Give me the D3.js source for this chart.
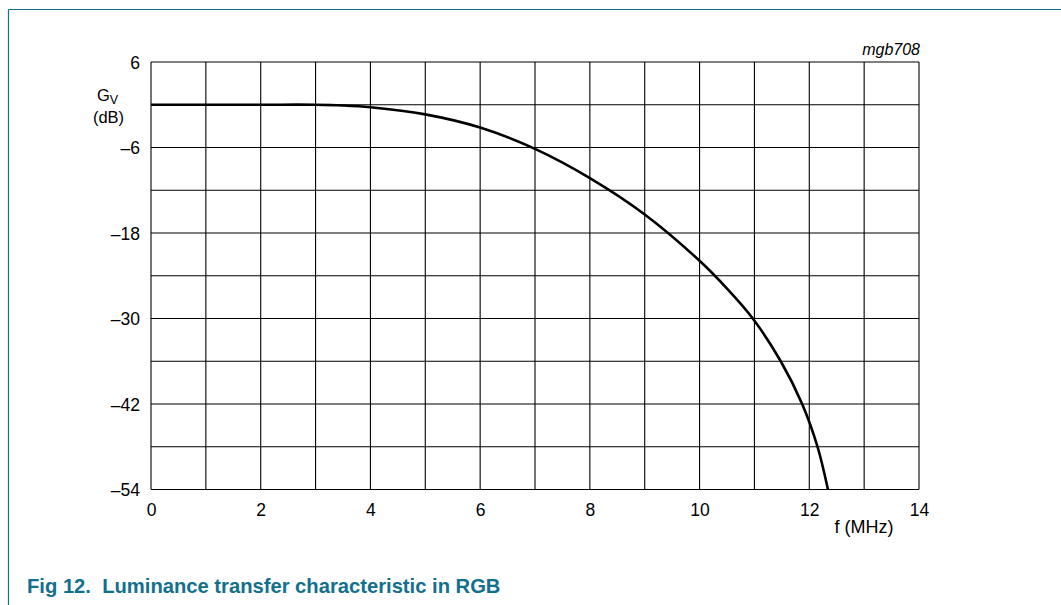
<!DOCTYPE html>
<html>
<head>
<meta charset="utf-8">
<script src="https://cdn.jsdelivr.net/npm/d3@7"></script>
<style>
  html, body { margin: 0; padding: 0; background: #fff; }
  svg { display: block; }
  text { font-family: "Liberation Sans", Arial, Helvetica, sans-serif; fill: #000; }
</style>
</head>
<body>
<svg id="chart" width="1061" height="605"></svg>
<script>
// ---- data ----
const freqMHz = [0, 1, 2, 3, 3.5, 4, 5, 6, 7, 8, 9, 10, 10.5, 10.97, 11.48, 11.87, 12.15, 12.34];
const gainDB  = [0, 0, 0, 0, -0.1, -0.35, -1.35, -3.2, -6.2, -10.3, -15.4, -21.9, -25.8, -30, -36, -42, -48, -54];
const xTickLabels = [0, 2, 4, 6, 8, 10, 12, 14];
const yTickLabels = [6, -6, -18, -30, -42, -54];
const xGridValues = [0, 1, 2, 3, 4, 5, 6, 7, 8, 9, 10, 11, 12, 13, 14];
const yGridValues = [6, 0, -6, -12, -18, -24, -30, -36, -42, -48, -54];
const xDomain = [0, 14];
const yDomain = [-54, 6];

// ---- layout ----
const svg = d3.select("#chart");
const pLeft = 151, pRight = 919, pTop = 62, pBottom = 489.5;
const teal = "#126f8d";

const x = d3.scaleLinear().domain(xDomain).range([pLeft, pRight]);
const y = d3.scaleLinear().domain(yDomain).range([pBottom, pTop]);

// page frame (left and top rules)
svg.append("line").attr("x1", 8.5).attr("x2", 8.5).attr("y1", 9.5).attr("y2", 605)
  .attr("stroke", teal).attr("stroke-width", 1.2);
svg.append("line").attr("x1", 8.5).attr("x2", 1061).attr("y1", 9.5).attr("y2", 9.5)
  .attr("stroke", teal).attr("stroke-width", 1.2);

// grid
const grid = svg.append("g").attr("stroke", "#000").attr("stroke-width", 1.1);
grid.selectAll("line.v").data(xGridValues).join("line").attr("class", "v")
  .attr("x1", d => x(d)).attr("x2", d => x(d)).attr("y1", pTop).attr("y2", pBottom);
grid.selectAll("line.h").data(yGridValues).join("line").attr("class", "h")
  .attr("x1", pLeft).attr("x2", pRight).attr("y1", d => y(d)).attr("y2", d => y(d));

const fmt = d => d < 0 ? "\u2013" + Math.abs(d) : String(d);

// x axis labels
const xAxis = d3.axisBottom(x).tickValues(xTickLabels).tickFormat(fmt).tickSize(0).tickPadding(0);
const gx = svg.append("g").attr("transform", `translate(0,${pBottom})`).call(xAxis);
gx.select(".domain").remove();
gx.selectAll("text").attr("font-size", 17.5).attr("dy", null).attr("y", 26)
  .style("font-family", "'Liberation Sans', Arial, sans-serif").attr("fill", "#000");

// y axis labels
const yAxis = d3.axisLeft(y).tickValues(yTickLabels).tickFormat(fmt).tickSize(0).tickPadding(0);
const gy = svg.append("g").attr("transform", `translate(${pLeft},0)`).call(yAxis);
gy.select(".domain").remove();
gy.selectAll("text").attr("font-size", 17.5).attr("x", -11).attr("dy", "0.36em")
  .style("font-family", "'Liberation Sans', Arial, sans-serif").attr("fill", "#000");

// curve
const pts = freqMHz.map((f, i) => [f, gainDB[i]]);
const line = d3.line().x(d => x(d[0])).y(d => y(d[1])).curve(d3.curveCatmullRom.alpha(0.5));
svg.append("path").datum(pts).attr("d", line)
  .attr("fill", "none").attr("stroke", "#000").attr("stroke-width", 2.6);

// axis titles
const gv = svg.append("text").attr("x", 97).attr("y", 101).attr("font-size", 16.5);
gv.append("tspan").text("G");
gv.append("tspan").attr("font-size", 12.5).attr("dy", 3).text("V");
svg.append("text").attr("x", 108.5).attr("y", 123).attr("text-anchor", "middle")
  .attr("font-size", 16.5).text("(dB)");
svg.append("text").attr("x", 864).attr("y", 533).attr("text-anchor", "middle")
  .attr("font-size", 18).text("f (MHz)");
svg.append("text").attr("x", 920).attr("y", 55).attr("text-anchor", "end")
  .attr("font-size", 16).attr("font-style", "italic").text("mgb708");

// caption
svg.append("text").attr("x", 27).attr("y", 593).attr("font-size", 20.2)
  .attr("font-weight", "bold").style("fill", teal)
  .attr("xml:space", "preserve")
  .text("Fig 12.\u00a0 Luminance transfer characteristic in RGB");
</script>
</body>
</html>
